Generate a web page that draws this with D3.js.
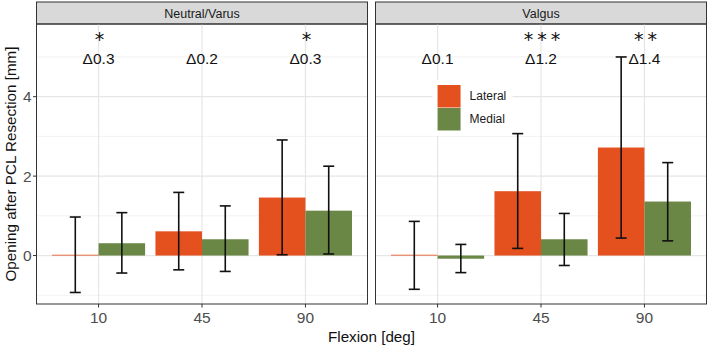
<!DOCTYPE html>
<html>
<head>
<meta charset="utf-8">
<script src="https://cdn.jsdelivr.net/npm/d3@7"></script>
<style>
  body { margin: 0; background: #fff; }
  svg { display: block; font-family: "Liberation Sans", Arial, sans-serif; }
</style>
</head>
<body>
<svg id="chart" width="708" height="347"></svg>
<script>
// data
const panels = ["Neutral/Varus", "Valgus"];
const flexion = ["10", "45", "90"];
const sides = ["Lateral", "Medial"];

// mean opening per panel, [lateral, medial] per flexion
const meanNeutral = [[0.02, 0.31], [0.61, 0.41], [1.46, 1.13]];
const meanValgus = [[0.02, -0.08], [1.62, 0.41], [2.72, 1.36]];
// error bar low / high
const lowNeutral = [[-0.93, -0.44], [-0.36, -0.40], [0.02, 0.04]];
const highNeutral = [[0.97, 1.08], [1.59, 1.25], [2.91, 2.25]];
const lowValgus = [[-0.85, -0.43], [0.18, -0.25], [0.44, 0.37]];
const highValgus = [[0.86, 0.28], [3.07, 1.06], [5.00, 2.34]];

const deltaNeutral = ["Δ0.3", "Δ0.2", "Δ0.3"];
const deltaValgus = ["Δ0.1", "Δ1.2", "Δ1.4"];
const starsNeutral = ["*", "", "*"];
const starsValgus = ["", "* * *", "* *"];

const yTicks = [0, 2, 4];
const yMinor = [-1, 1, 3, 5];

const colors = { Lateral: "#E5501F", Medial: "#6A8745" };

const svg = d3.select("#chart");

const panelW = 331, plotTop = 24, plotBottom = 304, stripTop = 2;
const panelX = [36.5, 375.5];

const y = d3.scaleLinear().domain([-1.22, 5.83]).range([plotBottom, plotTop]);

const panelData = [
  { name: panels[0], mean: meanNeutral, low: lowNeutral, high: highNeutral, delta: deltaNeutral, stars: starsNeutral },
  { name: panels[1], mean: meanValgus, low: lowValgus, high: highValgus, delta: deltaValgus, stars: starsValgus }
];

panelData.forEach((p, pi) => {
  const x0 = panelX[pi];
  const x = d3.scalePoint().domain(flexion).range([x0, x0 + panelW]).padding(0.6);
  const bw = x.step() * 0.9;
  const dodge = d3.scaleBand().domain(sides).range([-bw / 2, bw / 2]);

  const g = svg.append("g");

  // strip
  g.append("rect")
    .attr("x", x0).attr("y", stripTop)
    .attr("width", panelW).attr("height", plotTop - stripTop)
    .attr("fill", "#d9d9d9").attr("stroke", "#333").attr("stroke-width", 1);
  g.append("text")
    .attr("x", x0 + panelW / 2).attr("y", (stripTop + plotTop) / 2 + 4.5)
    .attr("text-anchor", "middle").attr("font-size", 12.5).attr("fill", "#1a1a1a")
    .text(p.name);

  // grid
  const grid = g.append("g");
  grid.selectAll(".minor").data(yMinor).join("line")
    .attr("x1", x0).attr("x2", x0 + panelW)
    .attr("y1", d => y(d)).attr("y2", d => y(d))
    .attr("stroke", "#efefef").attr("stroke-width", 0.8);
  grid.selectAll(".major").data(yTicks).join("line")
    .attr("x1", x0).attr("x2", x0 + panelW)
    .attr("y1", d => y(d)).attr("y2", d => y(d))
    .attr("stroke", "#e6e6e6").attr("stroke-width", 1.2);
  grid.selectAll(".vmajor").data(flexion).join("line")
    .attr("x1", d => x(d)).attr("x2", d => x(d))
    .attr("y1", plotTop).attr("y2", plotBottom)
    .attr("stroke", "#e6e6e6").attr("stroke-width", 1.2);

  // bars
  const rows = [];
  flexion.forEach((f, fi) => sides.forEach((s, si) => {
    rows.push({ f, s, v: p.mean[fi][si], lo: p.low[fi][si], hi: p.high[fi][si] });
  }));

  g.append("g").selectAll("rect").data(rows).join("rect")
    .attr("x", d => x(d.f) + dodge(d.s))
    .attr("width", dodge.bandwidth())
    .attr("y", d => y(Math.max(0, d.v)))
    .attr("height", d => Math.abs(y(d.v) - y(0)))
    .attr("fill", d => colors[d.s]);

  // legend (Valgus panel)
  if (pi === 1) {
    const lx = x("10"), ly = 85, ks = 22.5;
    const leg = g.append("g");
    leg.append("rect").attr("x", lx - 5).attr("y", ly - 5)
      .attr("width", 80).attr("height", ks * 2 + 11).attr("fill", "#fff");
    sides.forEach((s, i) => {
      leg.append("rect").attr("x", lx).attr("y", ly + i * (ks + 0.5))
        .attr("width", 23).attr("height", ks).attr("fill", colors[s]);
      leg.append("text").attr("x", lx + 32).attr("y", ly + i * (ks + 0.5) + ks / 2 + 4)
        .attr("font-size", 12).attr("fill", "#1a1a1a").text(s);
    });
  }

  // error bars
  const eb = g.append("g").attr("stroke", "#111").attr("stroke-width", 1.6).attr("fill", "none");
  const cap = 5.5;
  rows.forEach(d => {
    const cx = x(d.f) + dodge(d.s) + dodge.bandwidth() / 2;
    eb.append("line").attr("x1", cx).attr("x2", cx).attr("y1", y(d.lo)).attr("y2", y(d.hi));
    eb.append("line").attr("x1", cx - cap).attr("x2", cx + cap).attr("y1", y(d.lo)).attr("y2", y(d.lo));
    eb.append("line").attr("x1", cx - cap).attr("x2", cx + cap).attr("y1", y(d.hi)).attr("y2", y(d.hi));
  });

  // annotations
  g.append("g").selectAll("text").data(flexion).join("text")
    .attr("x", d => x(d)).attr("y", 63.5)
    .attr("text-anchor", "middle").attr("font-size", 15.5).attr("fill", "#111")
    .text((d, i) => p.delta[i]);
  g.append("g").selectAll("text").data(flexion).join("text")
    .attr("x", d => x(d) + 0.5).attr("y", 45.5)
    .attr("text-anchor", "middle").attr("font-size", 19).attr("fill", "#111")
    .attr("font-family", "DejaVu Sans").attr("letter-spacing", -1)
    .text((d, i) => p.stars[i]);

  // panel border
  g.append("rect").attr("x", x0).attr("y", plotTop)
    .attr("width", panelW).attr("height", plotBottom - plotTop)
    .attr("fill", "none").attr("stroke", "#333").attr("stroke-width", 1);

  // x axis ticks + labels
  const xa = g.append("g");
  xa.selectAll("line").data(flexion).join("line")
    .attr("x1", d => x(d)).attr("x2", d => x(d))
    .attr("y1", plotBottom).attr("y2", plotBottom + 3.5)
    .attr("stroke", "#333");
  xa.selectAll("text").data(flexion).join("text")
    .attr("x", d => x(d)).attr("y", plotBottom + 19)
    .attr("text-anchor", "middle").attr("font-size", 15.5).attr("fill", "#4d4d4d")
    .text(d => d);

  // y axis on first panel
  if (pi === 0) {
    const ya = g.append("g");
    ya.selectAll("line").data(yTicks).join("line")
      .attr("x1", x0 - 3.5).attr("x2", x0)
      .attr("y1", d => y(d)).attr("y2", d => y(d))
      .attr("stroke", "#333");
    ya.selectAll("text").data(yTicks).join("text")
      .attr("x", x0 - 5).attr("y", d => y(d) + 5.5)
      .attr("text-anchor", "end").attr("font-size", 15.5).attr("fill", "#4d4d4d")
      .text(d => d);
  }
});

// axis titles
svg.append("text")
  .attr("x", (panelX[0] + panelX[1] + panelW) / 2).attr("y", 342)
  .attr("text-anchor", "middle").attr("font-size", 15.2).attr("fill", "#111")
  .text("Flexion [deg]");
svg.append("text")
  .attr("transform", `translate(16,${(plotTop + plotBottom) / 2}) rotate(-90)`)
  .attr("text-anchor", "middle").attr("font-size", 15.2).attr("fill", "#111")
  .text("Opening after PCL Resection [mm]");
</script>
</body>
</html>
